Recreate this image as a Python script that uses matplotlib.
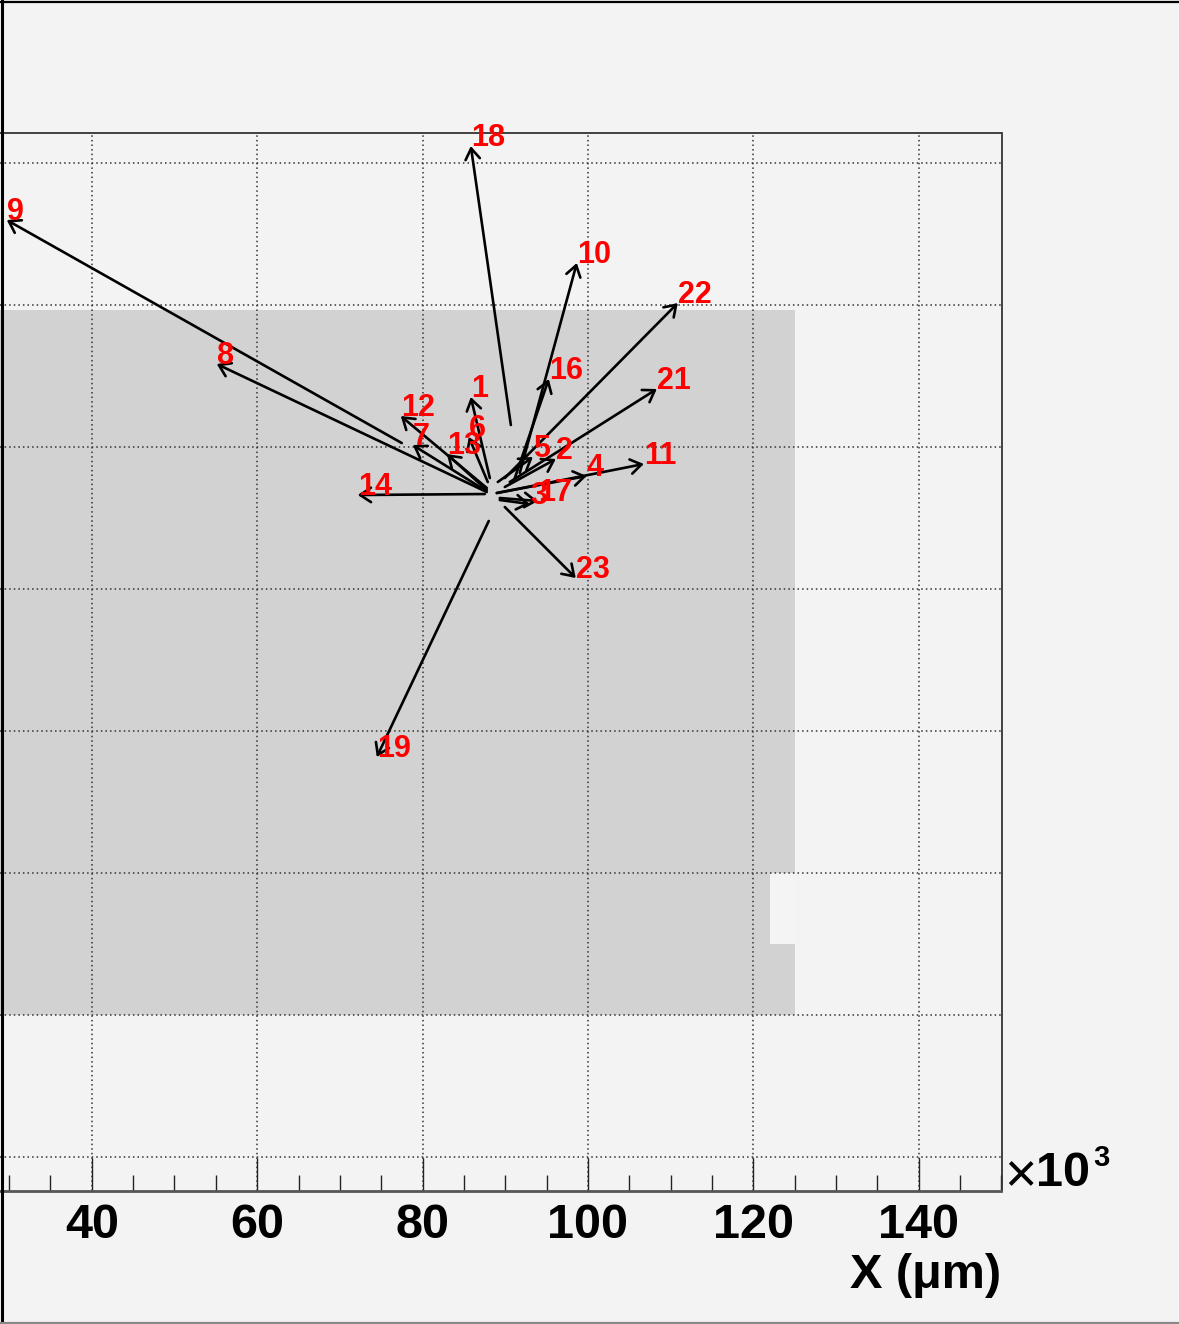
import matplotlib
matplotlib.use("Agg")
import matplotlib.pyplot as plt
from matplotlib.patches import Rectangle
from matplotlib.lines import Line2D

# ---- data (positions in um x 10^3) ----
track_ids = ["1", "2", "3", "4", "5", "6", "7", "8", "9", "10", "11", "12",
             "13", "14", "16", "17", "18", "19", "21", "22", "23"]
start_x = [88.13, 89.94, 89.33, 88.97, 89.09, 87.88, 87.52, 87.76, 77.48, 91.75, 88.97, 87.76,
           87.76, 87.52, 91.15, 89.33, 90.67, 88.00, 90.54, 89.94, 89.94]
start_y = [115.63, 114.37, 112.54, 113.52, 115.07, 115.07, 113.94, 113.66, 120.56, 116.34, 113.52, 114.23,
           113.94, 113.38, 115.63, 112.82, 123.10, 109.58, 115.07, 115.63, 111.55]
end_x = [85.83, 96.11, 92.96, 99.85, 93.33, 85.59, 78.81, 55.11, 29.72, 98.65, 106.75, 77.36,
         82.93, 72.16, 95.26, 93.93, 85.83, 74.46, 108.32, 110.86, 98.52]
end_y = [127.04, 118.31, 111.97, 115.92, 118.59, 121.41, 120.28, 131.69, 151.97, 145.92, 117.61, 124.37,
         119.01, 113.24, 129.58, 112.39, 162.39, 76.34, 128.17, 140.28, 101.55]

# detector region (um x 10^3)
region_x = [0.0, 125.0]
region_y = [40.0, 139.3]
hole_x = [121.98, 125.0]
hole_y = [50.0, 60.0]

x_limits = [28.9, 150.0]
y_limits = [15.21, 164.23]
x_major = [40, 60, 80, 100, 120, 140]
y_grid = [20, 40, 60, 80, 100, 120, 140, 160]

BG = "#f3f3f3"
W, H = 1179, 1324
fig = plt.figure(figsize=(W / 100, H / 100), dpi=100, facecolor=BG)
ax = fig.add_axes([0.0, (H - 1191) / H, 1001.5 / W, (1191 - 133) / H])
ax.set_facecolor(BG)
ax.set_xlim(*x_limits)
ax.set_ylim(*y_limits)

# gray region with a lighter hole
ax.add_patch(Rectangle((region_x[0], region_y[0]), region_x[1] - region_x[0],
                       region_y[1] - region_y[0], facecolor="#d2d2d2", edgecolor="none", zorder=0.5))
ax.add_patch(Rectangle((hole_x[0], hole_y[0]), hole_x[1] - hole_x[0],
                       hole_y[1] - hole_y[0], facecolor="#f4f4f4", edgecolor="none", zorder=0.6))

# grid
for gx in x_major:
    ax.axvline(gx, color="#333333", lw=1.1, ls=(0, (1, 2)), zorder=1)
for gy in y_grid:
    ax.axhline(gy, color="#333333", lw=1.1, ls=(0, (1, 2)), zorder=1)

# arrows and labels
for tid, sx, sy, ex, ey in zip(track_ids, start_x, start_y, end_x, end_y):
    ax.annotate("", xy=(ex, ey), xytext=(sx, sy), annotation_clip=False,
                arrowprops=dict(arrowstyle="->,head_length=0.6,head_width=0.4",
                                lw=1.9, color="black", shrinkA=0, shrinkB=0,
                                mutation_scale=13), zorder=3)
    ax.text(ex, ey, tid, color="#ff0000", fontsize=22, fontweight="bold",
            family=["Liberation Sans", "DejaVu Sans"], ha="left", va="baseline", zorder=4)

# ticks
ax.set_xticks(x_major)
ax.set_xticks([v for v in range(30, 151, 5) if v not in x_major], minor=True)
ax.set_xticklabels([str(v) for v in x_major], fontsize=35, fontweight="bold",
                   family=["Liberation Sans", "DejaVu Sans"])
ax.tick_params(axis="x", which="major", direction="in", length=24, width=1.0, pad=9,
               top=False, bottom=True, color="#222222")
ax.tick_params(axis="x", which="minor", direction="in", length=11.5, width=1.0,
               top=False, bottom=True, color="#222222")
ax.set_yticks([])

ax.spines["left"].set_visible(False)
ax.spines["top"].set_color("#333333")
ax.spines["top"].set_linewidth(1.3)
ax.spines["right"].set_color("#333333")
ax.spines["right"].set_linewidth(1.3)
ax.spines["bottom"].set_color("#555555")
ax.spines["bottom"].set_linewidth(2.0)

# axis title
fig.text(1001 / W, 1 - 1276 / H, "X (μm)", fontsize=35, fontweight="bold",
         family=["Liberation Sans", "DejaVu Sans"], ha="right", va="center")
# exponent label
fig.text(1004 / W, 1 - 1177 / H, "×", fontsize=40,
         family=["Liberation Sans", "DejaVu Sans"], ha="left", va="center")
fig.text(1036 / W, 1 - 1174 / H, "10", fontsize=35, fontweight="bold",
         family=["Liberation Sans", "DejaVu Sans"], ha="left", va="center")
fig.text(1093 / W, 1 - 1158 / H, "3", fontsize=21, fontweight="bold",
         family=["Liberation Sans", "DejaVu Sans"], ha="left", va="center")

# canvas borders
fig.add_artist(Line2D([1.5 / W, 1.5 / W], [0, 1], color="black", lw=2.2, transform=fig.transFigure))
fig.add_artist(Line2D([0, 1], [1 - 2 / H, 1 - 2 / H], color="black", lw=1.6, transform=fig.transFigure))
fig.add_artist(Line2D([0, 1], [1.5 / H, 1.5 / H], color="#888888", lw=1.6, transform=fig.transFigure))

fig.savefig("out.png", dpi=100, facecolor=BG)
